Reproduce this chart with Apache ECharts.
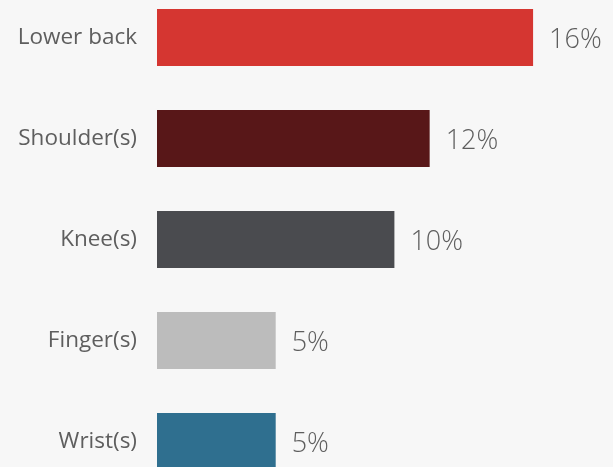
<!DOCTYPE html>
<html>
<head>
<meta charset="utf-8">
<script src="https://cdn.jsdelivr.net/npm/echarts@6/dist/echarts.min.js"></script>
<style>
  html, body { margin: 0; padding: 0; background: #f7f7f7; }
  #chart { width: 613px; height: 467px; }
</style>
</head>
<body>
<div id="chart"></div>
<script>
const categories = ['Lower back', 'Shoulder(s)', 'Knee(s)', 'Finger(s)', 'Wrist(s)']
const values = [16, 11.6, 10.1, 5.05, 5.05]
const colors = ['#d53631', '#581718', '#4a4b4f', '#bcbcbc', '#2f6f8f']

let myChart = echarts.init(document.getElementById('chart'))
myChart.setOption({
  backgroundColor: '#f7f7f7',
  animation: false,
  grid: {
    left: 157,
    right: 0,
    top: -13,
    height: 505,
    containLabel: false,
    outerBoundsMode: 'none'
  },
  xAxis: {
    type: 'value',
    min: 0,
    max: 19.4,
    show: false
  },
  yAxis: {
    type: 'category',
    inverse: true,
    data: categories,
    axisLine: { show: false },
    axisTick: { show: false },
    axisLabel: {
      margin: 20,
      color: '#5e5e5e',
      fontSize: 22.5,
      fontFamily: 'Open Sans',
      padding: [6, 0, 0, 0]
    }
  },
  series: [
    {
      type: 'bar',
      barWidth: 57,
      data: values.map((v, i) => ({
        value: v,
        itemStyle: { color: colors[i] }
      })),
      label: {
        show: true,
        position: 'right',
        distance: 16,
        offset: [0, 3],
        color: '#5e5e5e',
        fontSize: 27,
        fontWeight: 300,
        fontFamily: 'Open Sans',
        formatter: p => Math.round(p.value) + '%'
      }
    }
  ]
})
</script>
</body>
</html>
